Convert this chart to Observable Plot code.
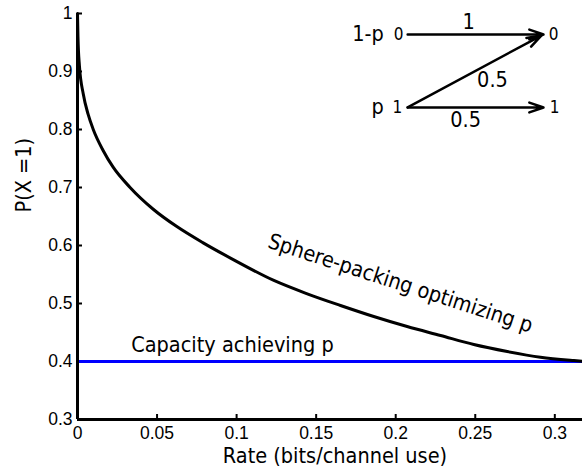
<!DOCTYPE html>
<html><head><meta charset="utf-8">
<script src="https://cdn.jsdelivr.net/npm/d3@7"></script>
<script src="https://cdn.jsdelivr.net/npm/@observablehq/plot@0.6"></script>
<style>body{margin:0;background:#fff} svg{display:block}</style>
</head><body><div id="chart"></div>
<script>
// Sphere-packing optimizing input distribution P(X=1) vs rate
const rate = [0, 0.0003, 0.0012, 0.0036, 0.0067, 0.0099, 0.0161, 0.0224, 0.0329, 0.0476, 0.0622, 0.0790, 0.0979, 0.1234, 0.1444, 0.1653, 0.1862, 0.2072, 0.2282, 0.2491, 0.2701, 0.2910, 0.3120, 0.3174];
const pOpt = [1.0, 0.960, 0.910, 0.8615, 0.826, 0.800, 0.7638, 0.735, 0.7005, 0.6625, 0.633, 0.6045, 0.5757, 0.5397, 0.5167, 0.4966, 0.4776, 0.4603, 0.4448, 0.4293, 0.4172, 0.4074, 0.4017, 0.4005];
const capacityP = 0.4;
const xDomain = [0, 0.3174];
const yDomain = [0.3, 1];
const xTicks = [0, 0.05, 0.1, 0.15, 0.2, 0.25, 0.3];
const yTicks = [0.3, 0.4, 0.5, 0.6, 0.7, 0.8, 0.9, 1];
const xLabel = "Rate (bits/channel use)";
const yLabel = "P(X =1)";
const curveLabel = "Sphere-packing optimizing p";
const capLabel = "Capacity achieving p";

// Z-channel inset diagram (in data units)
const zArrows = [
  {x1: 0.2075, y1: 0.9638, x2: 0.2929, y2: 0.9638},
  {x1: 0.2075, y1: 0.838, x2: 0.2915, y2: 0.9620},
  {x1: 0.2075, y1: 0.838, x2: 0.2929, y2: 0.838}
];
const zBig = [
  {x: 0.1826, y: 0.9638, t: "1-p"},
  {x: 0.1886, y: 0.838, t: "p"},
  {x: 0.2458, y: 0.9845, t: "1"},
  {x: 0.2608, y: 0.8853, t: "0.5"},
  {x: 0.2439, y: 0.8164, t: "0.5"}
];
const zSmall = [
  {x: 0.2018, y: 0.9638, t: "0"},
  {x: 0.2011, y: 0.838, t: "1"},
  {x: 0.2992, y: 0.9638, t: "0"},
  {x: 0.2998, y: 0.838, t: "1"}
];

const data = rate.map((r, i) => ({rate: r, p: pOpt[i]}));
const annFont = "DejaVu Sans Condensed, DejaVu Sans, Verdana, sans-serif";
const fmt = d3.format("~g");

const chart = Plot.plot({
  width: 582,
  height: 476,
  marginLeft: 77,
  marginRight: 0,
  marginTop: 13,
  marginBottom: 57,
  style: {fontFamily: "Liberation Sans, Arial, sans-serif", fontSize: "17.5px", background: "white", color: "black"},
  x: {domain: xDomain},
  y: {domain: yDomain},
  marks: [
    Plot.axisX(xTicks, {tickSize: 0, tickPadding: 7, label: null, tickFormat: fmt, fontSize: 17.5}),
    Plot.axisY(yTicks, {tickSize: 0, tickPadding: 5, label: null, tickFormat: fmt, fontSize: 17.5}),
    Plot.ruleX(xTicks, {x: d => d, y1: yDomain[0], y2: yDomain[0], insetTop: -5, stroke: "black", strokeWidth: 2}),
    Plot.ruleY(yTicks, {y: d => d, x1: xDomain[0], x2: xDomain[0], insetRight: -5, stroke: "black", strokeWidth: 2}),
    Plot.ruleY([capacityP], {stroke: "#0000ff", strokeWidth: 3}),
    Plot.line(data, {x: "rate", y: "p", stroke: "black", strokeWidth: 3, curve: "monotone-x"}),
    Plot.ruleX([xDomain[0]], {y1: yDomain[0], y2: yDomain[1], stroke: "black", strokeWidth: 3}),
    Plot.ruleY([yDomain[0]], {stroke: "black", strokeWidth: 3}),
    Plot.text([capLabel], {x: 0.0974, y: 0.4276, text: d => d, fontSize: 21.5, fontFamily: annFont}),
    Plot.text([curveLabel], {x: 0.203, y: 0.5345, text: d => d, rotate: 18, fontSize: 21.5, fontFamily: annFont}),
    Plot.arrow(zArrows, {x1: "x1", y1: "y1", x2: "x2", y2: "y2", stroke: "black", strokeWidth: 2.5, headLength: 9, headAngle: 38}),
    Plot.text(zBig, {x: "x", y: "y", text: "t", fontSize: 21.5, fontFamily: annFont}),
    Plot.text(zSmall, {x: "x", y: "y", text: "t", fontSize: 17, fontFamily: annFont}),
    Plot.text([xLabel], {frameAnchor: "bottom", dy: 43, dx: 5, text: d => d, fontSize: 21.5, fontFamily: annFont}),
    Plot.text([yLabel], {frameAnchor: "left", rotate: -90, dx: -53, dy: -4, text: d => d, fontSize: 21.5, fontFamily: annFont})
  ]
});
document.getElementById("chart").appendChild(chart);
</script>
</body></html>
